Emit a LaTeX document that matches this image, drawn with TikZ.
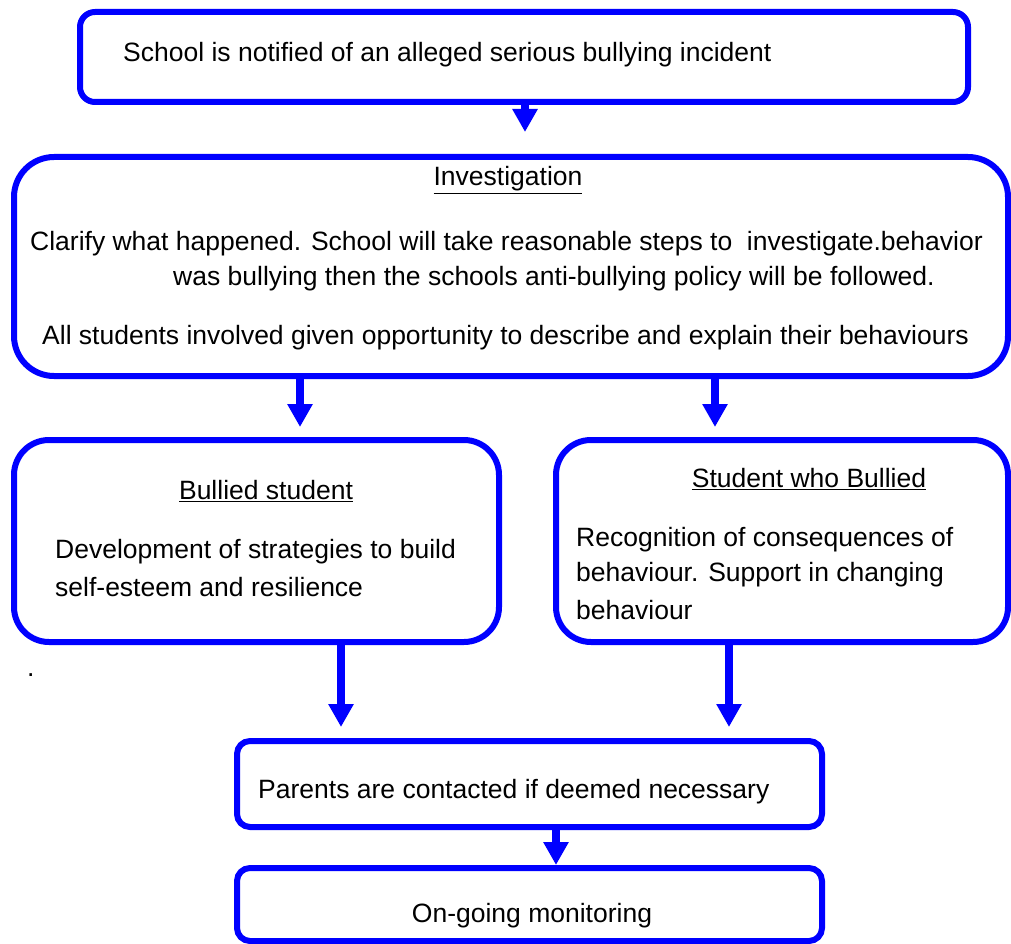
\documentclass[tikz,border=0pt]{standalone}
\usepackage{fontspec}
\setmainfont{Liberation Sans}
\usetikzlibrary{arrows.meta}
\definecolor{bblue}{RGB}{0,0,255}
\begin{document}
\begin{tikzpicture}[x=1pt,y=-1pt,
  box/.style={draw=bblue, line width=6pt, inner sep=0pt, anchor=center},
  txt/.style={inner sep=0pt, anchor=west, font=\fontsize{26.5}{32}\selectfont},
  ctxt/.style={inner sep=0pt, anchor=center, font=\fontsize{26.5}{32}\selectfont},
  arr/.style={draw=bblue, line width=8pt, -{Triangle[width=24pt,length=23pt]}}]
\path[use as bounding box] (0,0) rectangle (1011,944);
% boxes
\node[box, rounded corners=15pt, minimum width=888pt, minimum height=90pt] (top) at (524,57) {};
\node[box, rounded corners=40pt, minimum width=994pt, minimum height=219pt] (inv) at (511,266.5) {};
\node[box, rounded corners=35pt, minimum width=485pt, minimum height=202pt] (bs) at (256.5,541) {};
\node[box, rounded corners=35pt, minimum width=452pt, minimum height=202pt] (sb) at (782,541) {};
\node[box, rounded corners=13pt, minimum width=585pt, minimum height=86pt] (par) at (529.5,784) {};
\node[box, rounded corners=13pt, minimum width=585pt, minimum height=73pt] (mon) at (529.5,904.5) {};
% texts
\node[txt] (t1) at (123,55) {School is notified of an alleged serious bullying incident};
\node[ctxt] (t2) at (508,180) {\underline{Investigation}};
\node[txt] (t3) at (30,244) {Clarify what happened. School will take reasonable steps to\ \ investigate.behavior};
\node[txt] (t4) at (173,279) {was bullying then the schools anti-bullying policy will be followed.};
\node[txt] (t5) at (42,338) {All students involved given opportunity to describe and explain their behaviours};
\node[ctxt] (t6) at (266,491) {\underline{Bullied student}};
\node[txt] (t7) at (55,552) {Development of strategies to build};
\node[txt] (t8) at (55,587) {self-esteem and resilience};
\node[ctxt] (t9) at (809,479) {\underline{Student who Bullied}};
\node[txt] (t10) at (576,540) {Recognition of consequences of};
\node[txt] (t11) at (576,575) {behaviour. Support in changing};
\node[txt] (t12) at (576,610) {behaviour};
\node[txt] (dot) at (27,675) {.};
\node[txt] (t13) at (258,792) {Parents are contacted if deemed necessary};
\node[ctxt] (t14) at (532,916) {On-going monitoring};
% arrows
\coordinate (a1) at (525,0);
\coordinate (a2) at (300,0);
\coordinate (a3) at (715,0);
\coordinate (a4) at (341,0);
\coordinate (a5) at (729,0);
\coordinate (a6) at (556,0);
\draw[arr, shorten >=22pt] (top.south -| a1) -- (inv.north -| a1);
\draw[arr, shorten >=10pt] (inv.south -| a2) -- (bs.north -| a2);
\draw[arr, shorten >=10pt] (inv.south -| a3) -- (sb.north -| a3);
\draw[arr, shorten >=11pt] (bs.south -| a4) -- (par.north -| a4);
\draw[arr, shorten >=11pt] (sb.south -| a5) -- (par.north -| a5);
\draw[arr] (par.south -| a6) -- (mon.north -| a6);
\end{tikzpicture}
\end{document}
